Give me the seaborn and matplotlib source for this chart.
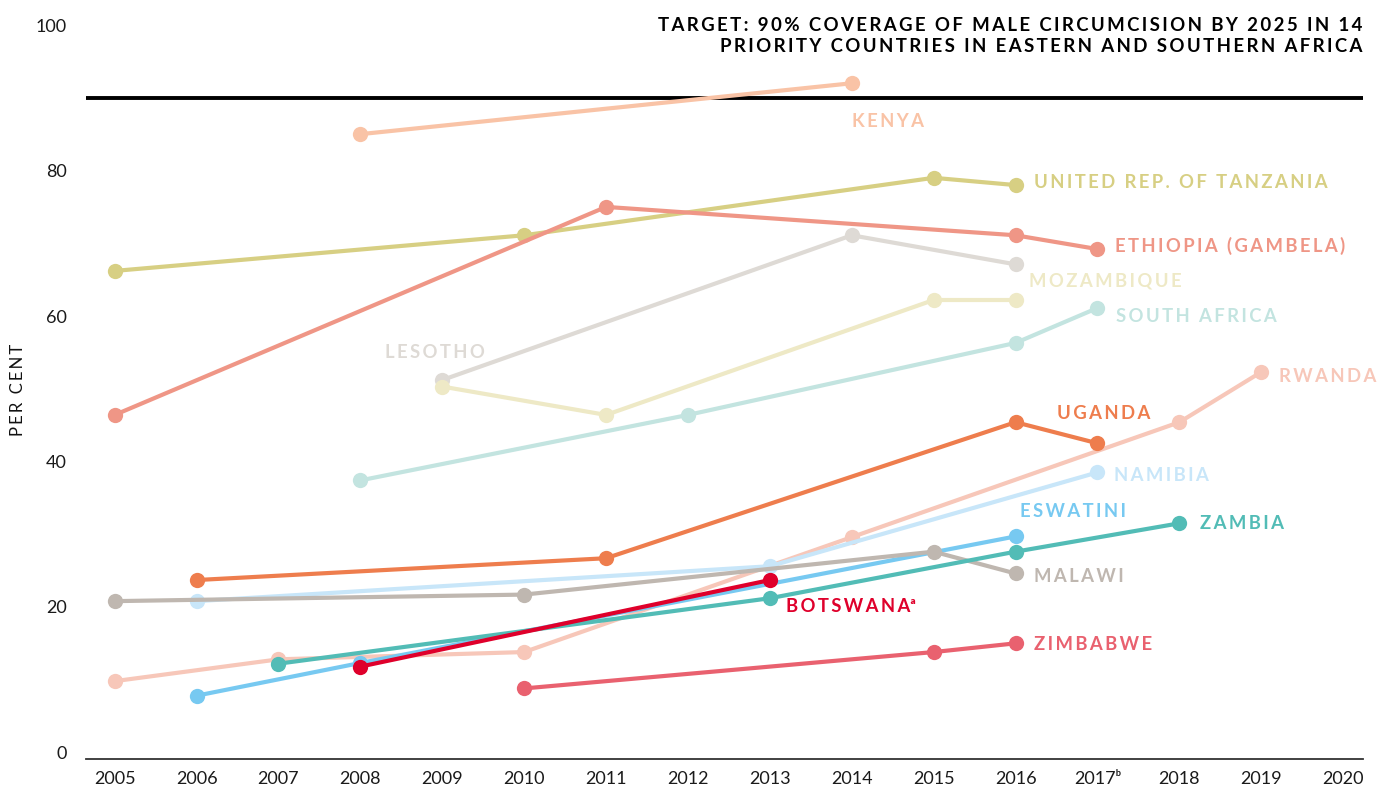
import pandas as pd
import matplotlib.pyplot as plt
import seaborn as sns

sns.set_theme(style="white")
plt.rcParams['font.family'] = ['Lato', 'DejaVu Sans']

# --- DATA (per cent of males circumcised) ---
countries = ['Kenya', 'United Rep. of Tanzania', 'Ethiopia (Gambela)', 'Lesotho',
             'Mozambique', 'South Africa', 'Rwanda', 'Uganda', 'Namibia',
             'Eswatini', 'Malawi', 'Zambia', 'Zimbabwe', 'Botswana']

kenya_years = [2008, 2014]
kenya_vals = [85.0, 92.0]
tanzania_years = [2005, 2010, 2015, 2016]
tanzania_vals = [66.2, 71.1, 79.0, 78.0]
ethiopia_years = [2005, 2011, 2016, 2017]
ethiopia_vals = [46.4, 75.0, 71.1, 69.2]
lesotho_years = [2009, 2014, 2016]
lesotho_vals = [51.2, 71.1, 67.1]
mozambique_years = [2009, 2011, 2015, 2016]
mozambique_vals = [50.3, 46.4, 62.2, 62.2]
south_africa_years = [2008, 2012, 2016, 2017]
south_africa_vals = [37.4, 46.4, 56.3, 61.1]
rwanda_years = [2005, 2007, 2010, 2014, 2018, 2019]
rwanda_vals = [9.8, 12.8, 13.8, 29.6, 45.4, 52.3]
uganda_years = [2006, 2011, 2016, 2017]
uganda_vals = [23.7, 26.7, 45.4, 42.5]
namibia_years = [2006, 2013, 2017]
namibia_vals = [20.8, 25.6, 38.5]
eswatini_years = [2006, 2008, 2016]
eswatini_vals = [7.8, 12.3, 29.7]
malawi_years = [2005, 2010, 2015, 2016]
malawi_vals = [20.8, 21.7, 27.6, 24.6]
zambia_years = [2007, 2013, 2016, 2018]
zambia_vals = [12.2, 21.2, 27.6, 31.5]
zimbabwe_years = [2010, 2015, 2016]
zimbabwe_vals = [8.8, 13.8, 15.0]
botswana_years = [2008, 2013]
botswana_vals = [11.8, 23.7]

target = 90
year_ticks = list(range(2005, 2021))
year_labels = [str(y) if y != 2017 else '2017\u1d47' for y in year_ticks]
pct_ticks = [0, 20, 40, 60, 80, 100]

series = {
    'Kenya': (kenya_years, kenya_vals),
    'United Rep. of Tanzania': (tanzania_years, tanzania_vals),
    'Ethiopia (Gambela)': (ethiopia_years, ethiopia_vals),
    'Lesotho': (lesotho_years, lesotho_vals),
    'Mozambique': (mozambique_years, mozambique_vals),
    'South Africa': (south_africa_years, south_africa_vals),
    'Rwanda': (rwanda_years, rwanda_vals),
    'Uganda': (uganda_years, uganda_vals),
    'Namibia': (namibia_years, namibia_vals),
    'Eswatini': (eswatini_years, eswatini_vals),
    'Malawi': (malawi_years, malawi_vals),
    'Zambia': (zambia_years, zambia_vals),
    'Zimbabwe': (zimbabwe_years, zimbabwe_vals),
    'Botswana': (botswana_years, botswana_vals),
}

rows = []
for name in countries:
    yrs, vals = series[name]
    for y, v in zip(yrs, vals):
        rows.append({'country': name, 'year': y, 'value': v})
df = pd.DataFrame(rows)

colors = {
    'Kenya': '#F9C3A6',
    'United Rep. of Tanzania': '#D7CF83',
    'Ethiopia (Gambela)': '#EF9686',
    'Lesotho': '#DEDAD5',
    'Mozambique': '#EEE9C6',
    'South Africa': '#C3E4E0',
    'Rwanda': '#F7C7B9',
    'Uganda': '#EE7D4D',
    'Namibia': '#C8E6F9',
    'Eswatini': '#77C9F1',
    'Malawi': '#BFB7B0',
    'Zambia': '#52BCB6',
    'Zimbabwe': '#E9616F',
    'Botswana': '#DF002B',
}

# where each country name sits (year of left edge, value of centre line)
label_pos = {
    'Kenya': (2014.0, 86.8),
    'United Rep. of Tanzania': (2016.23, 78.3),
    'Ethiopia (Gambela)': (2017.22, 69.6),
    'Lesotho': (2008.3, 55.0),
    'Mozambique': (2016.16, 64.8),
    'South Africa': (2017.23, 60.0),
    'Rwanda': (2019.22, 51.7),
    'Uganda': (2016.5, 46.6),
    'Namibia': (2017.2, 38.1),
    'Eswatini': (2016.06, 33.1),
    'Malawi': (2016.22, 24.2),
    'Zambia': (2018.25, 31.5),
    'Zimbabwe': (2016.22, 14.9),
    'Botswana': (2013.2, 20.1),
}

fig = plt.figure(figsize=(13.78, 7.93), dpi=100)
ax = fig.add_axes([0.0624, 0.0429, 0.9266, 0.9255])

sns.lineplot(data=df, x='year', y='value', hue='country', hue_order=countries,
             palette=colors, marker='o', markersize=11, markeredgewidth=0,
             linewidth=3, legend=False, ax=ax, estimator=None, sort=True)

ax.axhline(target, color='black', linewidth=2.8, zorder=1)


def spaced(s):
    # mimic the wide letter spacing of the original labels
    return '\u2009'.join(s)


for name in countries:
    x, y = label_pos[name]
    txt = spaced(name.upper())
    if name == 'Botswana':
        txt = txt + '\u1d43'
    ax.text(x, y, txt, color=colors[name], fontsize=13.3, fontweight='bold',
            ha='left', va='center')

fig.text(0.989, 0.978,
         spaced('TARGET: 90% COVERAGE OF MALE CIRCUMCISION BY 2025 IN 14') + '\n'
         + spaced('PRIORITY COUNTRIES IN EASTERN AND SOUTHERN AFRICA'),
         ha='right', va='top', fontsize=13.4, fontweight='bold', color='black',
         linespacing=1.22)

ax.set_xlim(2004.65, 2020.24)
ax.set_ylim(-0.9, 100)
ax.set_xticks(year_ticks)
ax.set_xticklabels(year_labels)
ax.set_yticks(pct_ticks)
ax.tick_params(axis='both', length=0, labelsize=13, colors='#1a1a1a')
ax.tick_params(axis='x', pad=9)
ax.tick_params(axis='y', pad=14)
ax.set_xlabel('')
ax.set_ylabel('')
fig.text(0.013, 0.508, spaced('PER CENT'), rotation=90, ha='center', va='center',
         fontsize=12, color='#111111')
for s in ['top', 'right', 'left']:
    ax.spines[s].set_visible(False)
ax.spines['bottom'].set_color('#333333')
ax.spines['bottom'].set_linewidth(1.3)
ax.grid(False)

plt.savefig('out.png', dpi=100)
